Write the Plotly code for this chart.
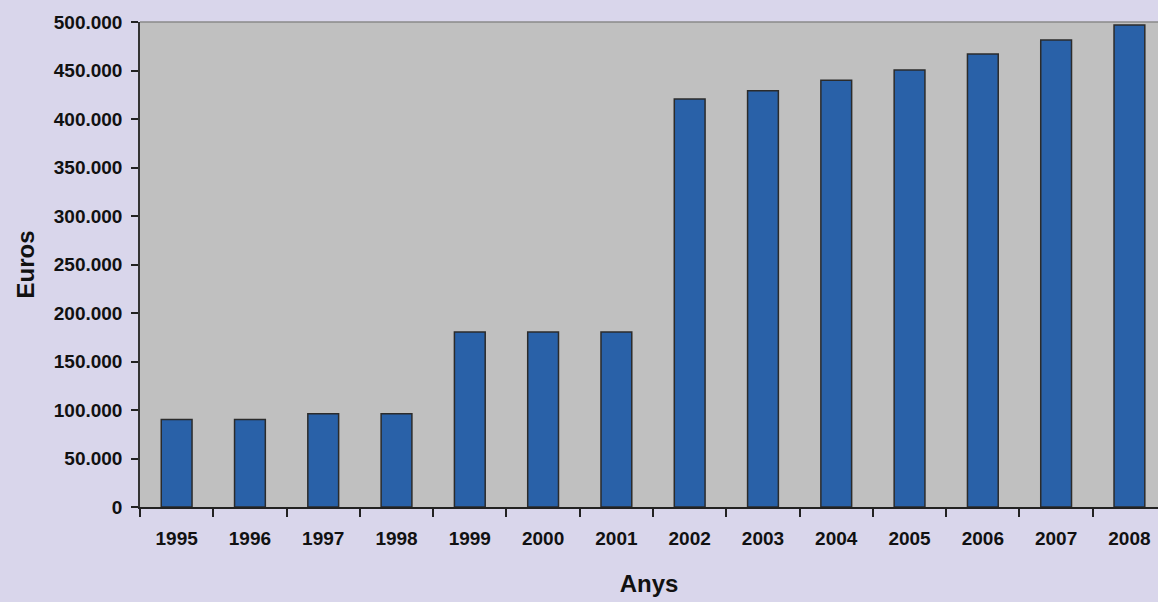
import plotly.graph_objects as go

years = ["1995", "1996", "1997", "1998", "1999", "2000", "2001",
         "2002", "2003", "2004", "2005", "2006", "2007", "2008"]
euros = [90152, 90152, 96162, 96162, 180304, 180304, 180304,
         420708, 429000, 440000, 450500, 467000, 481500, 497000]
y_ticks = [0, 50000, 100000, 150000, 200000, 250000, 300000,
           350000, 400000, 450000, 500000]

fig = go.Figure()
fig.add_trace(go.Bar(
    x=years, y=euros,
    marker=dict(color="#2961a8", line=dict(color="#2b2b2b", width=1.5)),
    hoverinfo="x+y",
))

font_family = "Liberation Sans, Arial, sans-serif"
fig.update_layout(
    width=1158, height=602,
    margin=dict(l=140, r=0, t=22, b=95),
    paper_bgcolor="#d9d6eb",
    plot_bgcolor="#c0c0c0",
    bargap=0.58,
    separators=",.",
    showlegend=False,
    font=dict(family=font_family, color="#111111"),
    xaxis=dict(
        type="category",
        range=[-0.5, 13.39],
        showgrid=False,
        showline=True, linecolor="#222222", linewidth=1.5,
        ticks="outside", tickson="boundaries", ticklen=8,
        tickcolor="#222222", tickwidth=1.5,
        tickfont=dict(size=19, family=font_family, weight="bold"),
        ticklabelstandoff=13,
        title=dict(text="<b>Anys</b>", font=dict(size=24, family=font_family),
                   standoff=28),
    ),
    yaxis=dict(
        range=[0, 500000],
        tickvals=y_ticks,
        tickformat=",d",
        showgrid=False,
        zeroline=False,
        showline=True, linecolor="#333333", linewidth=1.5,
        ticks="outside", ticklen=7, tickcolor="#222222", tickwidth=1.5,
        tickfont=dict(size=19, family=font_family, weight="bold"),
        ticklabelstandoff=5,
        title=dict(text="<b>Euros</b>", font=dict(size=24, family=font_family),
                   standoff=12),
    ),
    shapes=[dict(type="line", xref="paper", yref="paper", x0=0, x1=1, y0=1, y1=1,
                 line=dict(color="#8a8a8a", width=1.5))],
)

fig.write_html("out.html", config={"displayModeBar": False},
               post_script="document.body.style.margin='0';")
